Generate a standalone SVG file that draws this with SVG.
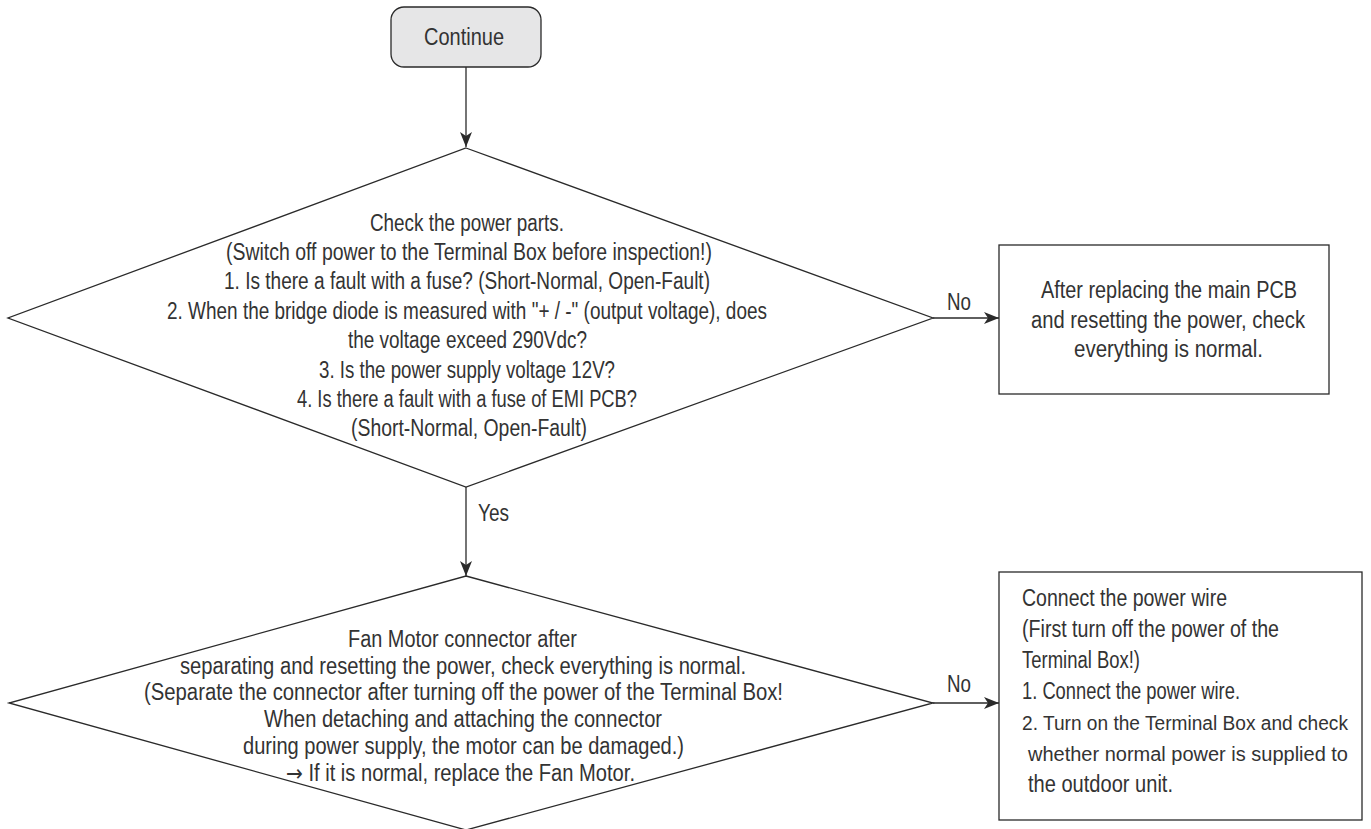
<svg xmlns="http://www.w3.org/2000/svg" width="1371" height="829" viewBox="0 0 1371 829">
<style>
  .shape { fill: #ffffff; stroke: #2a2a2a; stroke-width: 1.3; }
  .start { fill: #e6e6e7; stroke: #2a2a2a; stroke-width: 1.3; }
  .conn { fill: none; stroke: #2a2a2a; stroke-width: 1.3; }
  text { font-family: "Liberation Sans", Arial, sans-serif; font-size: 23px; fill: #333333; }
  text.fit { font-size: 19.5px; }
  .arrowglyph { font-family: "DejaVu Sans", sans-serif; }
</style>
<defs>
  <marker id="arr" markerUnits="userSpaceOnUse" markerWidth="16" markerHeight="12" refX="15" refY="6" orient="auto">
    <path d="M0,0 L15,6 L0,12 L4,6 z" fill="#2a2a2a"/>
  </marker>
</defs>
<g id="connectors">
  <path class="conn" d="M466,67 V147" marker-end="url(#arr)"/>
  <path class="conn" d="M933,318 H999" marker-end="url(#arr)"/>
  <path class="conn" d="M466,487 V576" marker-end="url(#arr)"/>
  <path class="conn" d="M933,703 H999" marker-end="url(#arr)"/>
  <text x="947" y="310" textLength="24" lengthAdjust="spacingAndGlyphs">No</text>
  <text x="478" y="521" textLength="31" lengthAdjust="spacingAndGlyphs">Yes</text>
  <text x="947" y="692" textLength="24" lengthAdjust="spacingAndGlyphs">No</text>
</g>
<g id="continue">
  <rect class="start" x="391" y="7" width="150" height="60" rx="13" ry="13"/>
  <text x="424" y="45" textLength="80" lengthAdjust="spacingAndGlyphs">Continue</text>
</g>
<g id="check-power">
  <polygon class="shape" points="466,148 933,318 466,487 8,318"/>
  <text x="370" y="230.5" textLength="194" lengthAdjust="spacingAndGlyphs">Check the power parts.</text>
  <text x="226" y="259.9" textLength="486" lengthAdjust="spacingAndGlyphs">(Switch off power to the Terminal Box before inspection!)</text>
  <text x="224" y="289.3" textLength="486" lengthAdjust="spacingAndGlyphs">1. Is there a fault with a fuse? (Short-Normal, Open-Fault)</text>
  <text x="167" y="318.7" textLength="600" lengthAdjust="spacingAndGlyphs">2. When the bridge diode is measured with "+ / -" (output voltage), does</text>
  <text x="348" y="348.1" textLength="239" lengthAdjust="spacingAndGlyphs">the voltage exceed 290Vdc?</text>
  <text x="319" y="377.5" textLength="296" lengthAdjust="spacingAndGlyphs">3. Is the power supply voltage 12V?</text>
  <text x="297" y="406.9" textLength="340" lengthAdjust="spacingAndGlyphs">4. Is there a fault with a fuse of EMI PCB?</text>
  <text x="351" y="436.3" textLength="236" lengthAdjust="spacingAndGlyphs">(Short-Normal, Open-Fault)</text>
</g>
<g id="replace-pcb">
  <rect class="shape" x="999" y="245" width="330" height="149"/>
  <text x="1041" y="298" textLength="256" lengthAdjust="spacingAndGlyphs">After replacing the main PCB</text>
  <text x="1031" y="328" textLength="274" lengthAdjust="spacingAndGlyphs">and resetting the power, check</text>
  <text x="1074" y="357" textLength="189" lengthAdjust="spacingAndGlyphs">everything is normal.</text>
</g>
<g id="fan-motor">
  <polygon class="shape" points="466,576 933,703 466,830 9,703"/>
  <text x="348" y="647" textLength="229" lengthAdjust="spacingAndGlyphs">Fan Motor connector after</text>
  <text x="180" y="673.7" textLength="566" lengthAdjust="spacingAndGlyphs">separating and resetting the power, check everything is normal.</text>
  <text x="144" y="700.4" textLength="639" lengthAdjust="spacingAndGlyphs">(Separate the connector after turning off the power of the Terminal Box!</text>
  <text x="264" y="727" textLength="398" lengthAdjust="spacingAndGlyphs">When detaching and attaching the connector</text>
  <text x="243" y="753.8" textLength="441" lengthAdjust="spacingAndGlyphs">during power supply, the motor can be damaged.)</text>
  <text x="286" y="780.5" textLength="349" lengthAdjust="spacingAndGlyphs"><tspan class="arrowglyph">→</tspan> If it is normal, replace the Fan Motor.</text>
</g>
<g id="connect-wire">
  <rect class="shape" x="999" y="572" width="363" height="248"/>
  <text x="1022" y="606" textLength="205" lengthAdjust="spacingAndGlyphs">Connect the power wire</text>
  <text x="1022" y="637" textLength="257" lengthAdjust="spacingAndGlyphs">(First turn off the power of the</text>
  <text x="1022" y="668" textLength="118" lengthAdjust="spacingAndGlyphs">Terminal Box!)</text>
  <text x="1022" y="699" textLength="218" lengthAdjust="spacingAndGlyphs">1. Connect the power wire.</text>
  <text class="fit" x="1022" y="730" textLength="326" lengthAdjust="spacingAndGlyphs">2. Turn on the Terminal Box and check</text>
  <text class="fit" x="1028" y="761" textLength="320" lengthAdjust="spacingAndGlyphs">whether normal power is supplied to</text>
  <text x="1028" y="792" textLength="145" lengthAdjust="spacingAndGlyphs">the outdoor unit.</text>
</g>
</svg>
